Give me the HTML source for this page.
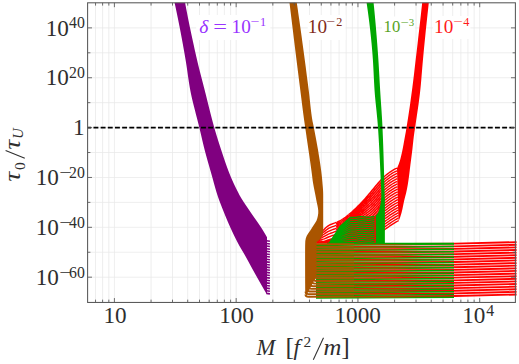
<!DOCTYPE html>
<html><head><meta charset="utf-8"><title>plot</title>
<style>
html,body{margin:0;padding:0;background:#fff;}
body{width:519px;height:364px;overflow:hidden;font-family:"Liberation Serif",serif;}
svg{display:block;}
</style></head><body>
<svg width="519" height="364" viewBox="0 0 519 364">
<path d="M95.54 2.8V302.45M102.6 2.8V302.45M108.83 2.8V302.45M114.4 2.8V302.45M151.06 2.8V302.45M172.5 2.8V302.45M187.71 2.8V302.45M199.51 2.8V302.45M209.16 2.8V302.45M217.31 2.8V302.45M224.37 2.8V302.45M230.6 2.8V302.45M236.17 2.8V302.45M272.83 2.8V302.45M294.27 2.8V302.45M309.48 2.8V302.45M321.28 2.8V302.45M330.93 2.8V302.45M339.08 2.8V302.45M346.14 2.8V302.45M352.37 2.8V302.45M357.94 2.8V302.45M394.6 2.8V302.45M416.04 2.8V302.45M431.25 2.8V302.45M443.05 2.8V302.45M452.7 2.8V302.45M460.85 2.8V302.45M467.91 2.8V302.45M474.14 2.8V302.45M479.71 2.8V302.45M87.6 277.18H515.4M87.6 252.25H515.4M87.6 227.32H515.4M87.6 202.39H515.4M87.6 177.46H515.4M87.6 152.53H515.4M87.6 127.6H515.4M87.6 102.67H515.4M87.6 77.74H515.4M87.6 52.81H515.4M87.6 27.88H515.4" stroke="#e8e8e8" stroke-width="0.75" fill="none"/>
<g id="lblbg" fill="#fff">
<rect x="196.2" y="15" width="74.2" height="25"/>
<rect x="307.7" y="15" width="37.8" height="25"/>
<rect x="382" y="16.5" width="32.8" height="22.3"/>
<rect x="433" y="16" width="37.4" height="23"/>
</g>
<g id="red" stroke="#ff0000" fill="none" stroke-width="1.85">
<path d="M316 244.3L455 243.7L516.6 242.11M316 246.92L455 246.31L516.6 244.73M316 249.54L455 248.93L516.6 247.35M316 252.16L455 251.54L516.6 249.97M316 254.78L455 254.16L516.6 252.59M316 257.4L455 256.77L516.6 255.21M316 260.02L455 259.39L516.6 257.83M316 262.64L455 262L516.6 260.45M316 265.26L455 264.62L516.6 263.07M316 267.88L455 267.24L516.6 265.69M316 270.5L455 269.85L516.6 268.31M316 273.12L455 272.46L516.6 270.93M316 275.74L455 275.08L516.6 273.55M316 278.36L455 277.69L516.6 276.17M316 280.98L455 280.31L516.6 278.79M316 283.6L455 282.93L516.6 281.41M316 286.22L455 285.54L516.6 284.03M316 288.84L455 288.15L516.6 286.64M316 291.46L455 290.77L516.6 289.26M316 294.08L455 293.38L516.6 291.88M316 296.7L455 296L516.6 294.5"/>
<path d="M316.1 242 L317.27 239.04 L318.44 236.67 L319.62 234.76 L320.79 233.11 L321.96 231.65 L323.13 230.37 L324.31 229.19 L325.48 228.05 L326.65 227.01 L327.82 226.09 L329 225.35 L330.17 224.74 L331.34 224.23 L332.51 223.78 L333.69 223.36 L334.86 222.95 L336.03 222.5M316.1 242.13 L317.27 239.7 L318.45 237.75 L319.62 236.18 L320.8 234.83 L321.97 233.63 L323.15 232.57 L324.32 231.59 L325.5 230.61 L326.67 229.7 L327.85 228.88 L329.02 228.2 L330.2 227.64 L331.37 227.15 L332.55 226.71 L333.72 226.29 L334.9 225.87 L336.07 225.43M316.1 242.25 L317.28 240.36 L318.45 238.83 L319.63 237.6 L320.81 236.55 L321.99 235.61 L323.16 234.78 L324.34 234 L325.52 233.17 L326.69 232.38 L327.87 231.67 L329.05 231.06 L330.23 230.54 L331.4 230.07 L332.58 229.63 L333.76 229.22 L334.93 228.79 L336.11 228.35M316.1 242.38 L317.28 241.01 L318.46 239.92 L319.64 239.03 L320.82 238.26 L322 237.59 L323.18 236.99 L324.36 236.4 L325.54 235.72 L326.71 235.07 L327.89 234.46 L329.07 233.91 L330.25 233.43 L331.43 232.98 L332.61 232.56 L333.79 232.14 L334.97 231.71 L336.15 231.26M316.1 242.5 L317.28 241.67 L318.46 241 L319.65 240.45 L320.83 239.98 L322.01 239.56 L323.19 239.2 L324.37 238.8 L325.55 238.28 L326.74 237.75 L327.92 237.24 L329.1 236.76 L330.28 236.32 L331.46 235.89 L332.64 235.47 L333.83 235.05 L335.01 234.62 L336.19 234.17M316.1 242.63 L317.28 242.32 L318.47 242.08 L319.65 241.87 L320.84 241.7 L322.02 241.54 L323.2 241.4 L324.39 241.2 L325.57 240.83 L326.76 240.43 L327.94 240.02 L329.12 239.61 L330.31 239.21 L331.49 238.8 L332.68 238.39 L333.86 237.97 L335.04 237.53 L336.23 237.08M316.1 242.64 L317.29 242.4 L318.47 242.2 L319.66 242.03 L320.85 241.89 L322.03 241.76 L323.22 241.65 L324.4 241.48 L325.59 241.18 L326.78 240.86 L327.96 240.53 L329.15 240.2 L330.34 239.88 L331.52 239.55 L332.71 239.22 L333.9 238.89 L335.08 238.54 L336.27 238.17M316.1 242.65 L317.29 242.43 L318.48 242.26 L319.66 242.11 L320.85 241.98 L322.04 241.87 L323.23 241.77 L324.41 241.63 L325.6 241.36 L326.79 241.08 L327.98 240.79 L329.16 240.5 L330.35 240.22 L331.54 239.93 L332.73 239.64 L333.91 239.35 L335.1 239.04 L336.29 238.72M316.1 242.66 L317.29 242.47 L318.48 242.32 L319.67 242.19 L320.85 242.08 L322.04 241.98 L323.23 241.89 L324.42 241.77 L325.61 241.54 L326.8 241.3 L327.99 241.05 L329.18 240.8 L330.36 240.55 L331.55 240.31 L332.74 240.06 L333.93 239.81 L335.12 239.55 L336.31 239.27M316.1 242.66 L317.29 242.51 L318.48 242.38 L319.67 242.27 L320.86 242.17 L322.05 242.09 L323.24 242.02 L324.43 241.91 L325.62 241.72 L326.81 241.51 L328 241.31 L329.19 241.1 L330.38 240.89 L331.57 240.69 L332.76 240.48 L333.95 240.27 L335.14 240.05 L336.33 239.83M316.1 242.67 L317.29 242.54 L318.48 242.44 L319.67 242.35 L320.86 242.27 L322.06 242.2 L323.25 242.14 L324.44 242.05 L325.63 241.9 L326.82 241.73 L328.01 241.56 L329.2 241.4 L330.39 241.23 L331.58 241.07 L332.77 240.9 L333.97 240.74 L335.16 240.56 L336.35 240.38M316.1 242.68 L317.29 242.58 L318.48 242.5 L319.68 242.43 L320.87 242.37 L322.06 242.31 L323.25 242.26 L324.45 242.19 L325.64 242.07 L326.83 241.95 L328.02 241.82 L329.21 241.7 L330.41 241.57 L331.6 241.45 L332.79 241.33 L333.98 241.2 L335.17 241.07 L336.37 240.93M316.1 242.69 L317.29 242.61 L318.49 242.56 L319.68 242.51 L320.87 242.46 L322.07 242.42 L323.26 242.39 L324.45 242.34 L325.65 242.25 L326.84 242.17 L328.03 242.08 L329.23 242 L330.42 241.92 L331.61 241.83 L332.81 241.75 L334 241.67 L335.19 241.58 L336.39 241.49M316.1 242.69 L317.29 242.65 L318.49 242.62 L319.68 242.58 L320.88 242.56 L322.07 242.53 L323.27 242.51 L324.46 242.48 L325.66 242.43 L326.85 242.39 L328.04 242.34 L329.24 242.3 L330.43 242.26 L331.63 242.22 L332.82 242.17 L334.02 242.13 L335.21 242.09 L336.41 242.04M316.1 242.7 L317.3 242.69 L318.49 242.68 L319.69 242.66 L320.88 242.65 L322.08 242.64 L323.27 242.63 L324.47 242.62 L325.67 242.61 L326.86 242.61 L328.06 242.6 L329.25 242.6 L330.45 242.6 L331.64 242.6 L332.84 242.6 L334.03 242.6 L335.23 242.6 L336.43 242.6" stroke-width="1.4" stroke-linejoin="round"/>
<path d="M336.03 222.5 L337.2 222 L338.38 221.45 L339.55 220.86 L340.72 220.23 L341.89 219.54 L343.07 218.8 L344.24 218 L345.41 217.17 L346.58 216.29 L347.76 215.38 L348.93 214.45M336.05 223.96 L337.23 223.46 L338.4 222.92 L339.57 222.34 L340.75 221.71 L341.92 221.03 L343.09 220.29 L344.27 219.5 L345.44 218.68 L346.61 217.81 L347.79 216.91 L348.96 215.98M336.07 225.43 L337.25 224.93 L338.42 224.38 L339.6 223.81 L340.77 223.19 L341.95 222.51 L343.12 221.78 L344.29 221 L345.47 220.19 L346.64 219.33 L347.82 218.43 L348.99 217.51M336.09 226.89 L337.27 226.39 L338.44 225.85 L339.62 225.28 L340.79 224.66 L341.97 223.99 L343.15 223.27 L344.32 222.5 L345.5 221.69 L346.67 220.84 L347.85 219.95 L349.03 219.03M336.11 228.35 L337.29 227.85 L338.46 227.31 L339.64 226.75 L340.82 226.14 L342 225.47 L343.17 224.76 L344.35 224 L345.53 223.19 L346.7 222.35 L347.88 221.47 L349.06 220.55M336.13 229.8 L337.31 229.31 L338.49 228.78 L339.67 228.21 L340.84 227.61 L342.02 226.95 L343.2 226.24 L344.38 225.49 L345.56 224.7 L346.73 223.86 L347.91 222.98 L349.09 222.07M336.15 231.26 L337.33 230.77 L338.51 230.24 L339.69 229.68 L340.87 229.08 L342.05 228.43 L343.23 227.73 L344.41 226.98 L345.59 226.2 L346.76 225.37 L347.94 224.5 L349.12 223.59M336.17 232.72 L337.35 232.23 L338.53 231.7 L339.71 231.14 L340.89 230.55 L342.07 229.9 L343.25 229.21 L344.43 228.47 L345.61 227.69 L346.8 226.87 L347.98 226.01 L349.16 225.1M336.19 234.17 L337.37 233.68 L338.55 233.16 L339.73 232.61 L340.92 232.01 L342.1 231.37 L343.28 230.69 L344.46 229.96 L345.64 229.19 L346.83 228.37 L348.01 227.51 L349.19 226.61M336.21 235.63 L337.39 235.14 L338.58 234.62 L339.76 234.07 L340.94 233.48 L342.12 232.85 L343.31 232.17 L344.49 231.45 L345.67 230.68 L346.86 229.87 L348.04 229.02 L349.22 228.12M336.23 237.08 L337.41 236.59 L338.6 236.07 L339.78 235.53 L340.97 234.94 L342.15 234.32 L343.33 233.65 L344.52 232.93 L345.7 232.17 L346.89 231.37 L348.07 230.52 L349.25 229.63M336.25 237.63 L337.43 237.19 L338.62 236.72 L339.8 236.23 L340.99 235.7 L342.17 235.14 L343.36 234.53 L344.55 233.89 L345.73 233.21 L346.92 232.48 L348.1 231.72 L349.29 230.91M336.27 238.17 L337.45 237.78 L338.64 237.37 L339.83 236.93 L341.01 236.46 L342.2 235.96 L343.39 235.42 L344.57 234.85 L345.76 234.24 L346.95 233.6 L348.13 232.92 L349.32 232.2M336.29 238.72 L337.48 238.38 L338.66 238.02 L339.85 237.63 L341.04 237.22 L342.23 236.78 L343.41 236.31 L344.6 235.81 L345.79 235.28 L346.98 234.71 L348.16 234.12 L349.35 233.49M336.31 239.27 L337.5 238.98 L338.69 238.67 L339.87 238.34 L341.06 237.99 L342.25 237.61 L343.44 237.21 L344.63 236.78 L345.82 236.32 L347.01 235.83 L348.19 235.32 L349.38 234.79M336.33 239.83 L337.52 239.58 L338.71 239.32 L339.9 239.05 L341.09 238.75 L342.28 238.44 L343.47 238.1 L344.66 237.74 L345.85 237.36 L347.04 236.96 L348.23 236.53 L349.42 236.08M336.35 240.38 L337.54 240.18 L338.73 239.97 L339.92 239.75 L341.11 239.52 L342.3 239.27 L343.49 239 L344.68 238.71 L345.88 238.4 L347.07 238.08 L348.26 237.74 L349.45 237.38M336.37 240.93 L337.56 240.78 L338.75 240.63 L339.94 240.46 L341.14 240.29 L342.33 240.1 L343.52 239.89 L344.71 239.68 L345.9 239.45 L347.1 239.21 L348.29 238.95 L349.48 238.68M336.39 241.49 L337.58 241.39 L338.77 241.28 L339.97 241.17 L341.16 241.06 L342.35 240.93 L343.55 240.79 L344.74 240.65 L345.93 240.5 L347.13 240.34 L348.32 240.16 L349.51 239.98M336.41 242.04 L337.6 241.99 L338.8 241.94 L339.99 241.89 L341.18 241.83 L342.38 241.76 L343.57 241.7 L344.77 241.62 L345.96 241.55 L347.16 241.47 L348.35 241.38 L349.55 241.29M336.43 242.6 L337.62 242.6 L338.82 242.6 L340.01 242.6 L341.21 242.6 L342.4 242.6 L343.6 242.6 L344.8 242.6 L345.99 242.6 L347.19 242.6 L348.38 242.6 L349.58 242.6" stroke-width="1.3" stroke-linejoin="round"/>
<path d="M348.93 214.45 L350.1 213.49 L351.27 212.51 L352.45 211.5 L353.62 210.45 L354.79 209.36 L355.96 208.24 L357.14 207.08 L358.31 205.9 L359.48 204.7 L360.65 203.48 L361.83 202.24 L363 200.99 L364.17 199.73 L365.34 198.45 L366.52 197.12 L367.69 195.76 L368.86 194.37 L370.03 192.96 L371.21 191.53 L372.38 190.1 L373.55 188.67 L374.72 187.25 L375.9 185.85 L377.07 184.47 L378.24 183.13 L379.41 181.81 L380.59 180.46 L381.76 179.13 L382.93 177.88M348.96 215.98 L350.14 215.02 L351.31 214.04 L352.48 213.05 L353.66 212.06 L354.83 211.02 L356 209.95 L357.18 208.86 L358.35 207.74 L359.52 206.59 L360.7 205.43 L361.87 204.25 L363.04 203.06 L364.22 201.87 L365.39 200.65 L366.57 199.39 L367.74 198.09 L368.91 196.76 L370.09 195.42 L371.26 194.05 L372.43 192.65 L373.61 191.24 L374.78 189.84 L375.95 188.45 L377.13 187.08 L378.3 185.72 L379.48 184.39 L380.65 183.03 L381.82 181.71 L383 180.48M348.99 217.51 L350.17 216.55 L351.34 215.57 L352.52 214.61 L353.69 213.66 L354.87 212.68 L356.04 211.67 L357.22 210.63 L358.39 209.57 L359.57 208.48 L360.74 207.38 L361.92 206.27 L363.09 205.14 L364.27 204.01 L365.44 202.85 L366.62 201.65 L367.79 200.42 L368.97 199.16 L370.14 197.88 L371.31 196.56 L372.49 195.2 L373.66 193.82 L374.84 192.43 L376.01 191.06 L377.19 189.69 L378.36 188.32 L379.54 186.96 L380.71 185.6 L381.89 184.29 L383.06 183.08M349.03 219.03 L350.2 218.08 L351.38 217.1 L352.55 216.16 L353.73 215.27 L354.91 214.34 L356.08 213.39 L357.26 212.41 L358.43 211.4 L359.61 210.38 L360.79 209.34 L361.96 208.28 L363.14 207.22 L364.31 206.14 L365.49 205.05 L366.67 203.91 L367.84 202.75 L369.02 201.55 L370.19 200.34 L371.37 199.07 L372.55 197.75 L373.72 196.39 L374.9 195.02 L376.07 193.66 L377.25 192.29 L378.42 190.91 L379.6 189.54 L380.78 188.17 L381.95 186.87 L383.13 185.67M349.06 220.55 L350.24 219.6 L351.41 218.63 L352.59 217.72 L353.77 216.88 L354.94 216 L356.12 215.11 L357.3 214.18 L358.48 213.23 L359.65 212.27 L360.83 211.29 L362.01 210.29 L363.18 209.29 L364.36 208.28 L365.54 207.25 L366.72 206.18 L367.89 205.08 L369.07 203.95 L370.25 202.8 L371.42 201.59 L372.6 200.3 L373.78 198.96 L374.96 197.61 L376.13 196.27 L377.31 194.9 L378.49 193.5 L379.66 192.12 L380.84 190.74 L382.02 189.45 L383.19 188.27M349.09 222.07 L350.27 221.12 L351.45 220.15 L352.63 219.27 L353.8 218.48 L354.98 217.67 L356.16 216.82 L357.34 215.95 L358.52 215.07 L359.7 214.16 L360.87 213.24 L362.05 212.31 L363.23 211.37 L364.41 210.42 L365.59 209.45 L366.77 208.44 L367.94 207.41 L369.12 206.35 L370.3 205.26 L371.48 204.1 L372.66 202.85 L373.83 201.54 L375.01 200.2 L376.19 198.87 L377.37 197.51 L378.55 196.1 L379.73 194.69 L380.9 193.31 L382.08 192.03 L383.26 190.87M349.12 223.59 L350.3 222.64 L351.48 221.67 L352.66 220.83 L353.84 220.09 L355.02 219.33 L356.2 218.54 L357.38 217.73 L358.56 216.9 L359.74 216.05 L360.92 215.19 L362.1 214.32 L363.28 213.44 L364.46 212.56 L365.64 211.65 L366.82 210.71 L367.99 209.74 L369.17 208.74 L370.35 207.73 L371.53 206.62 L372.71 205.4 L373.89 204.11 L375.07 202.79 L376.25 201.47 L377.43 200.11 L378.61 198.69 L379.79 197.27 L380.97 195.88 L382.15 194.61 L383.33 193.47M349.16 225.1 L350.34 224.16 L351.52 223.18 L352.7 222.38 L353.88 221.7 L355.06 220.99 L356.24 220.26 L357.42 219.5 L358.6 218.73 L359.78 217.95 L360.96 217.15 L362.14 216.34 L363.32 215.52 L364.5 214.69 L365.68 213.85 L366.86 212.97 L368.05 212.07 L369.23 211.14 L370.41 210.19 L371.59 209.13 L372.77 207.95 L373.95 206.68 L375.13 205.38 L376.31 204.08 L377.49 202.72 L378.67 201.28 L379.85 199.84 L381.03 198.45 L382.21 197.19 L383.39 196.07M349.19 226.61 L350.37 225.67 L351.55 224.7 L352.73 223.94 L353.92 223.3 L355.1 222.65 L356.28 221.97 L357.46 221.28 L358.64 220.56 L359.82 219.84 L361.01 219.1 L362.19 218.35 L363.37 217.59 L364.55 216.83 L365.73 216.05 L366.91 215.24 L368.1 214.4 L369.28 213.53 L370.46 212.65 L371.64 211.65 L372.82 210.5 L374.01 209.25 L375.19 207.96 L376.37 206.68 L377.55 205.33 L378.73 203.88 L379.91 202.42 L381.1 201.02 L382.28 199.77 L383.46 198.67M349.22 228.12 L350.4 227.19 L351.59 226.21 L352.77 225.49 L353.95 224.91 L355.14 224.31 L356.32 223.69 L357.5 223.05 L358.68 222.4 L359.87 221.73 L361.05 221.05 L362.23 220.36 L363.42 219.67 L364.6 218.97 L365.78 218.25 L366.96 217.5 L368.15 216.73 L369.33 215.93 L370.51 215.11 L371.7 214.16 L372.88 213.05 L374.06 211.83 L375.24 210.55 L376.43 209.29 L377.61 207.93 L378.79 206.47 L379.98 205 L381.16 203.59 L382.34 202.35 L383.53 201.26M349.25 229.63 L350.44 228.69 L351.62 227.71 L352.81 227.05 L353.99 226.52 L355.17 225.97 L356.36 225.41 L357.54 224.82 L358.73 224.23 L359.91 223.62 L361.09 223 L362.28 222.38 L363.46 221.74 L364.65 221.11 L365.83 220.45 L367.01 219.77 L368.2 219.06 L369.38 218.32 L370.57 217.57 L371.75 216.68 L372.93 215.6 L374.12 214.4 L375.3 213.14 L376.49 211.89 L377.67 210.54 L378.86 209.06 L380.04 207.57 L381.22 206.16 L382.41 204.93 L383.59 203.86M349.29 230.91 L350.47 230.07 L351.66 229.19 L352.84 228.6 L354.03 228.13 L355.21 227.63 L356.4 227.12 L357.58 226.6 L358.77 226.06 L359.95 225.51 L361.14 224.96 L362.32 224.39 L363.51 223.82 L364.69 223.24 L365.88 222.65 L367.06 222.03 L368.25 221.39 L369.43 220.72 L370.62 220.03 L371.81 219.19 L372.99 218.15 L374.18 216.97 L375.36 215.73 L376.55 214.49 L377.73 213.15 L378.92 211.66 L380.1 210.15 L381.29 208.73 L382.47 207.51 L383.66 206.46M349.32 232.2 L350.5 231.45 L351.69 230.67 L352.88 230.16 L354.06 229.73 L355.25 229.29 L356.44 228.84 L357.62 228.37 L358.81 227.89 L360 227.41 L361.18 226.91 L362.37 226.41 L363.56 225.9 L364.74 225.38 L365.93 224.85 L367.11 224.29 L368.3 223.72 L369.49 223.12 L370.67 222.5 L371.86 221.71 L373.05 220.7 L374.23 219.55 L375.42 218.32 L376.61 217.1 L377.79 215.75 L378.98 214.25 L380.16 212.73 L381.35 211.29 L382.54 210.09 L383.72 209.06M349.35 233.49 L350.54 232.84 L351.73 232.15 L352.91 231.71 L354.1 231.34 L355.29 230.96 L356.48 230.56 L357.66 230.15 L358.85 229.73 L360.04 229.3 L361.23 228.86 L362.41 228.42 L363.6 227.97 L364.79 227.52 L365.98 227.05 L367.16 226.56 L368.35 226.05 L369.54 225.51 L370.73 224.96 L371.91 224.22 L373.1 223.25 L374.29 222.12 L375.48 220.91 L376.66 219.7 L377.85 218.36 L379.04 216.85 L380.23 215.3 L381.41 213.86 L382.6 212.67 L383.79 211.66M349.38 234.79 L350.57 234.22 L351.76 233.63 L352.95 233.27 L354.14 232.95 L355.33 232.62 L356.52 232.27 L357.7 231.92 L358.89 231.56 L360.08 231.19 L361.27 230.81 L362.46 230.43 L363.65 230.05 L364.84 229.66 L366.03 229.25 L367.21 228.82 L368.4 228.38 L369.59 227.91 L370.78 227.42 L371.97 226.74 L373.16 225.8 L374.35 224.69 L375.53 223.5 L376.72 222.31 L377.91 220.97 L379.1 219.44 L380.29 217.88 L381.48 216.43 L382.67 215.25 L383.86 214.26M349.42 236.08 L350.61 235.61 L351.8 235.12 L352.99 234.82 L354.18 234.55 L355.37 234.28 L356.56 233.99 L357.74 233.7 L358.93 233.39 L360.12 233.08 L361.31 232.77 L362.5 232.45 L363.69 232.12 L364.88 231.79 L366.07 231.45 L367.26 231.09 L368.45 230.71 L369.64 230.3 L370.83 229.88 L372.02 229.25 L373.21 228.35 L374.4 227.27 L375.59 226.09 L376.78 224.91 L377.97 223.57 L379.16 222.03 L380.35 220.46 L381.54 219 L382.73 217.83 L383.92 216.85M349.45 237.38 L350.64 237 L351.83 236.61 L353.02 236.38 L354.21 236.16 L355.4 235.94 L356.59 235.71 L357.79 235.47 L358.98 235.22 L360.17 234.97 L361.36 234.72 L362.55 234.46 L363.74 234.2 L364.93 233.93 L366.12 233.65 L367.31 233.35 L368.5 233.04 L369.7 232.7 L370.89 232.34 L372.08 231.77 L373.27 230.9 L374.46 229.84 L375.65 228.68 L376.84 227.51 L378.03 226.18 L379.22 224.63 L380.41 223.03 L381.61 221.57 L382.8 220.41 L383.99 219.45M349.48 238.68 L350.67 238.4 L351.87 238.1 L353.06 237.93 L354.25 237.77 L355.44 237.6 L356.63 237.42 L357.83 237.24 L359.02 237.06 L360.21 236.87 L361.4 236.67 L362.59 236.47 L363.79 236.27 L364.98 236.07 L366.17 235.85 L367.36 235.62 L368.56 235.36 L369.75 235.09 L370.94 234.8 L372.13 234.28 L373.32 233.45 L374.52 232.41 L375.71 231.27 L376.9 230.12 L378.09 228.79 L379.29 227.22 L380.48 225.61 L381.67 224.14 L382.86 222.99M349.51 239.98 L350.71 239.8 L351.9 239.6 L353.09 239.48 L354.29 239.38 L355.48 239.26 L356.67 239.14 L357.87 239.02 L359.06 238.89 L360.25 238.76 L361.45 238.63 L362.64 238.49 L363.83 238.35 L365.03 238.21 L366.22 238.05 L367.41 237.88 L368.61 237.69 L369.8 237.49 L370.99 237.27 L372.19 236.8 L373.38 236 L374.57 234.98 L375.77 233.85 L376.96 232.72 L378.15 231.39 L379.35 229.81 L380.54 228.19 L381.73 226.71 L382.93 225.57M349.55 241.29 L350.74 241.2 L351.93 241.1 L353.13 241.04 L354.32 240.98 L355.52 240.92 L356.71 240.86 L357.91 240.79 L359.1 240.72 L360.3 240.65 L361.49 240.58 L362.69 240.5 L363.88 240.43 L365.07 240.34 L366.27 240.25 L367.46 240.15 L368.66 240.02 L369.85 239.89 L371.05 239.73 L372.24 239.31 L373.44 238.55 L374.63 237.56 L375.82 236.44 L377.02 235.32 L378.21 234 L379.41 232.41 L380.6 230.76 L381.8 229.28 L382.99 228.15M349.58 242.6 L350.77 242.6 L351.97 242.6 L353.17 242.59 L354.36 242.59 L355.56 242.58 L356.75 242.58 L357.95 242.57 L359.14 242.56 L360.34 242.54 L361.53 242.53 L362.73 242.52 L363.93 242.5 L365.12 242.48 L366.32 242.45 L367.51 242.41 L368.71 242.35 L369.9 242.28 L371.1 242.19 L372.3 241.83 L373.49 241.1 L374.69 240.13 L375.88 239.03 L377.08 237.93 L378.27 236.61 L379.47 235 L380.67 233.34 L381.86 231.85 L383.06 230.73" stroke-width="1.55" stroke-linejoin="round"/>
<path d="M382.93 177.88 L384.1 176.76 L385.28 175.77 L386.45 174.81 L387.62 173.88 L388.79 172.98 L389.97 172.12 L391.14 171.32 L392.31 170.56 L393.48 169.87 L394.66 169.24 L395.83 168.68 L397 168.2M383 180.48 L384.17 179.37 L385.34 178.39 L386.52 177.43 L387.69 176.51 L388.86 175.62 L390.04 174.76 L391.21 173.96 L392.39 173.2 L393.56 172.5 L394.73 171.87 L395.91 171.31 L397.08 170.82M383.06 183.08 L384.24 181.98 L385.41 181.01 L386.59 180.06 L387.76 179.14 L388.94 178.25 L390.11 177.4 L391.29 176.6 L392.46 175.84 L393.64 175.14 L394.81 174.51 L395.99 173.94 L397.16 173.44M383.13 185.67 L384.3 184.59 L385.48 183.63 L386.66 182.69 L387.83 181.77 L389.01 180.89 L390.18 180.04 L391.36 179.24 L392.54 178.48 L393.71 177.78 L394.89 177.14 L396.06 176.57 L397.24 176.06M383.19 188.27 L384.37 187.2 L385.55 186.25 L386.73 185.31 L387.9 184.4 L389.08 183.52 L390.26 182.68 L391.43 181.88 L392.61 181.13 L393.79 180.42 L394.97 179.78 L396.14 179.19 L397.32 178.68M383.26 190.87 L384.44 189.82 L385.62 188.87 L386.8 187.94 L387.97 187.03 L389.15 186.16 L390.33 185.32 L391.51 184.52 L392.69 183.77 L393.87 183.06 L395.04 182.41 L396.22 181.82 L397.4 181.3M383.33 193.47 L384.51 192.43 L385.69 191.49 L386.87 190.56 L388.04 189.67 L389.22 188.8 L390.4 187.96 L391.58 187.16 L392.76 186.41 L393.94 185.7 L395.12 185.05 L396.3 184.45 L397.48 183.92M383.39 196.07 L384.57 195.04 L385.75 194.1 L386.93 193.19 L388.12 192.3 L389.3 191.43 L390.48 190.6 L391.66 189.8 L392.84 189.05 L394.02 188.34 L395.2 187.68 L396.38 187.08 L397.56 186.54M383.46 198.67 L384.64 197.65 L385.82 196.72 L387 195.82 L388.19 194.93 L389.37 194.07 L390.55 193.24 L391.73 192.45 L392.91 191.69 L394.09 190.98 L395.28 190.32 L396.46 189.71 L397.64 189.16M383.53 201.26 L384.71 200.27 L385.89 199.34 L387.07 198.44 L388.26 197.56 L389.44 196.7 L390.62 195.88 L391.81 195.09 L392.99 194.33 L394.17 193.62 L395.35 192.95 L396.54 192.34 L397.72 191.78M383.59 203.86 L384.78 202.88 L385.96 201.96 L387.14 201.07 L388.33 200.19 L389.51 199.34 L390.7 198.52 L391.88 197.73 L393.06 196.97 L394.25 196.26 L395.43 195.59 L396.62 194.97 L397.8 194.4M383.66 206.46 L384.84 205.49 L386.03 204.58 L387.21 203.69 L388.4 202.82 L389.58 201.98 L390.77 201.16 L391.95 200.37 L393.14 199.61 L394.32 198.9 L395.51 198.23 L396.69 197.6 L397.88 197.02M382.54 210.09 L383.72 209.06 L384.91 208.1 L386.1 207.2 L387.28 206.32 L388.47 205.45 L389.66 204.61 L390.84 203.8 L392.03 203.01 L393.21 202.26 L394.4 201.54 L395.59 200.86 L396.77 200.23 L397.96 199.64M382.6 212.67 L383.79 211.66 L384.98 210.71 L386.16 209.82 L387.35 208.94 L388.54 208.09 L389.73 207.25 L390.91 206.44 L392.1 205.65 L393.29 204.9 L394.48 204.18 L395.66 203.5 L396.85 202.86 L398.04 202.26M382.67 215.25 L383.86 214.26 L385.04 213.33 L386.23 212.44 L387.42 211.57 L388.61 210.72 L389.8 209.88 L390.99 209.08 L392.18 208.29 L393.37 207.54 L394.55 206.82 L395.74 206.13 L396.93 205.48 L398.12 204.88M382.73 217.83 L383.92 216.85 L385.11 215.94 L386.3 215.06 L387.49 214.2 L388.68 213.35 L389.87 212.52 L391.06 211.71 L392.25 210.93 L393.44 210.18 L394.63 209.46 L395.82 208.77 L397.01 208.11 L398.2 207.5M382.8 220.41 L383.99 219.45 L385.18 218.55 L386.37 217.68 L387.56 216.82 L388.75 215.98 L389.94 215.16 L391.13 214.35 L392.32 213.57 L393.52 212.82 L394.71 212.1 L395.9 211.4 L397.09 210.74 L398.28 210.12M382.86 222.99 L384.05 222.05 L385.25 221.16 L386.44 220.3 L387.63 219.45 L388.82 218.61 L390.01 217.79 L391.21 216.99 L392.4 216.22 L393.59 215.46 L394.78 214.73 L395.98 214.04 L397.17 213.37 L398.36 212.74M382.93 225.57 L384.12 224.65 L385.31 223.77 L386.51 222.92 L387.7 222.07 L388.89 221.24 L390.09 220.43 L391.28 219.63 L392.47 218.86 L393.67 218.1 L394.86 217.37 L396.05 216.67 L397.25 216 L398.44 215.36M382.99 228.15 L384.19 227.25 L385.38 226.39 L386.58 225.54 L387.77 224.7 L388.96 223.87 L390.16 223.06 L391.35 222.27 L392.55 221.5 L393.74 220.74 L394.94 220.01 L396.13 219.31 L397.33 218.63 L398.52 217.98M383.06 230.73 L384.25 229.85 L385.45 229 L386.64 228.16 L387.84 227.33 L389.03 226.51 L390.23 225.7 L391.43 224.91 L392.62 224.14 L393.82 223.39 L395.01 222.65 L396.21 221.94 L397.4 221.26 L398.6 220.6" stroke-width="1.4" stroke-linejoin="round"/>
<path d="M348 218L377 216L377 243L340 243Z" fill="#ff0000" stroke="none"/>
<path d="M422.2 2.8 L421.75 6.83 L421.3 10.87 L420.85 14.9 L420.4 18.94 L419.94 22.97 L419.48 27 L419.02 31.04 L418.55 35.07 L418.09 39.11 L417.62 43.14 L417.15 47.18 L416.68 51.21 L416.21 55.24 L415.73 59.28 L415.26 63.31 L414.79 67.35 L414.32 71.38 L413.85 75.41 L413.36 79.45 L412.86 83.48 L412.35 87.52 L411.83 91.55 L411.28 95.59 L410.73 99.62 L410.16 103.65 L409.58 107.69 L408.98 111.72 L408.37 115.76 L407.75 119.79 L407.11 123.82 L406.46 127.86 L405.77 131.89 L405.03 135.93 L404.3 139.96 L403.59 144 L402.84 148.03 L402.03 152.06 L401.11 156.1 L400.06 160.13 L398.67 164.17 L397 168.2 L397.3 180 L397.8 200 L398.6 221.2 L398.6 221.2 L400.17 217.16 L401.47 213.11 L402.44 209.07 L403.25 205.02 L404.08 200.98 L405.07 196.93 L406.13 192.89 L407.03 188.84 L407.76 184.8 L408.38 180.76 L408.94 176.71 L409.45 172.67 L409.95 168.62 L410.45 164.58 L410.98 160.53 L411.49 156.49 L412 152.44 L412.49 148.4 L412.93 144.36 L413.37 140.31 L413.84 136.27 L414.4 132.22 L415.02 128.18 L415.61 124.13 L416.21 120.09 L416.82 116.04 L417.42 112 L418.01 107.96 L418.59 103.91 L419.13 99.87 L419.65 95.82 L420.12 91.78 L420.54 87.73 L420.93 83.69 L421.28 79.64 L421.62 75.6 L421.95 71.56 L422.28 67.51 L422.62 63.47 L422.98 59.42 L423.35 55.38 L423.74 51.33 L424.13 47.29 L424.53 43.24 L424.93 39.2 L425.34 35.16 L425.75 31.11 L426.17 27.07 L426.6 23.02 L427.03 18.98 L427.46 14.93 L427.9 10.89 L428.35 6.84 L428.8 2.8Z" fill="#ff0000" stroke="none"/>
</g>
<g id="green" stroke="#00a700" fill="none" stroke-width="1.5">
<path d="M316 245.6L454 243.85M316 248.22L454 246.51M316 250.84L454 249.18M316 253.46L454 251.84M316 256.08L454 254.51M316 258.7L454 257.18M316 261.32L454 259.84M316 263.94L454 262.5M316 266.56L454 265.17M316 269.18L454 267.83M316 271.8L454 270.5M316 274.42L454 273.17M316 277.04L454 275.83M316 279.66L454 278.5M316 282.28L454 281.16M316 284.9L454 283.82M316 287.52L454 286.49M316 290.14L454 289.15M316 292.76L454 291.82M316 295.38L454 294.49M316 298L454 297.15"/>
<path d="M366.6 2.8 L367.18 6.81 L367.75 10.82 L368.29 14.84 L368.82 18.85 L369.32 22.86 L369.8 26.87 L370.27 30.88 L370.71 34.89 L371.12 38.91 L371.52 42.92 L371.88 46.93 L372.23 50.94 L372.55 54.95 L372.84 58.96 L373.09 62.97 L373.31 66.99 L373.52 71 L373.71 75.01 L373.91 79.02 L374.12 83.03 L374.34 87.05 L374.6 91.06 L374.91 95.07 L375.27 99.08 L375.66 103.09 L376.08 107.1 L376.5 111.11 L376.91 115.13 L377.31 119.14 L377.66 123.15 L377.97 127.16 L378.24 131.17 L378.49 135.19 L378.73 139.2 L378.96 143.21 L379.18 147.22 L379.39 151.23 L379.59 155.24 L379.79 159.26 L379.97 163.27 L380.16 167.28 L380.34 171.29 L380.51 175.3 L380.68 179.31 L380.86 183.33 L381.06 187.34 L381.24 191.35 L381.3 195.36 L381.3 199.37 L381.3 203.38 L381.3 207.4 L381.3 211.41 L381.3 215.42 L381.3 219.43 L381.3 223.44 L381.3 227.45 L381.3 231.47 L381.3 235.48 L381.3 239.49 L381.3 243.5 L384.7 243.5 L384.7 239.49 L384.7 235.48 L384.7 231.47 L384.7 227.45 L384.7 223.44 L384.7 219.43 L384.7 215.42 L384.7 211.41 L384.7 207.4 L384.7 203.38 L384.7 199.37 L384.66 195.36 L384.57 191.35 L384.45 187.34 L384.34 183.33 L384.23 179.31 L384.12 175.3 L384.02 171.29 L383.9 167.28 L383.79 163.27 L383.67 159.26 L383.54 155.24 L383.41 151.23 L383.27 147.22 L383.13 143.21 L382.98 139.2 L382.82 135.19 L382.65 131.17 L382.48 127.16 L382.28 123.15 L382.06 119.14 L381.81 115.13 L381.55 111.11 L381.28 107.1 L381 103.09 L380.72 99.08 L380.46 95.07 L380.2 91.06 L379.97 87.05 L379.74 83.03 L379.51 79.02 L379.29 75.01 L379.06 71 L378.83 66.99 L378.59 62.97 L378.33 58.96 L378.06 54.95 L377.77 50.94 L377.48 46.93 L377.17 42.92 L376.86 38.91 L376.54 34.89 L376.2 30.88 L375.86 26.87 L375.51 22.86 L375.14 18.85 L374.77 14.84 L374.39 10.82 L374 6.81 L373.6 2.8Z" fill="#00a700" stroke="none"/>
<path d="M329 243.6 L340.29 226.21 L350.3 217.4 L352.5 217.5 L354.5 217.49 L356.5 217.24 L358.5 216.87 L360.5 216.61 L362.5 216.6 L364.5 216.81 L366.5 217.09 L368.5 217.23 L370.5 217.1 L372.5 216.77 L374.5 216.43M329 243.6 L340.29 227.6 L350.3 219.48 L352.5 219.58 L354.5 219.57 L356.5 219.32 L358.5 218.96 L360.5 218.7 L362.5 218.68 L364.5 218.9 L366.5 219.18 L368.5 219.31 L370.5 219.18 L372.5 218.85 L374.5 218.51M329 243.6 L340.29 228.98 L350.3 221.57 L352.5 221.66 L354.5 221.66 L356.5 221.4 L358.5 221.04 L360.5 220.78 L362.5 220.76 L364.5 220.98 L366.5 221.26 L368.5 221.39 L370.5 221.27 L372.5 220.94 L374.5 220.59M329 243.6 L340.29 230.37 L350.3 223.65 L352.5 223.75 L354.5 223.74 L356.5 223.49 L358.5 223.12 L360.5 222.86 L362.5 222.85 L364.5 223.06 L366.5 223.34 L368.5 223.48 L370.5 223.35 L372.5 223.02 L374.5 222.68M329 243.6 L340.29 231.76 L350.3 225.73 L352.5 225.83 L354.5 225.82 L356.5 225.57 L358.5 225.21 L360.5 224.95 L362.5 224.93 L364.5 225.15 L366.5 225.43 L368.5 225.56 L370.5 225.43 L372.5 225.1 L374.5 224.76M329 243.6 L340.29 233.15 L350.3 227.82 L352.5 227.91 L354.5 227.91 L356.5 227.65 L358.5 227.29 L360.5 227.03 L362.5 227.01 L364.5 227.23 L366.5 227.51 L368.5 227.64 L370.5 227.52 L372.5 227.19 L374.5 226.84M329 243.6 L340.29 234.53 L350.3 229.9 L352.5 230 L354.5 229.99 L356.5 229.74 L358.5 229.37 L360.5 229.11 L362.5 229.1 L364.5 229.31 L366.5 229.59 L368.5 229.73 L370.5 229.6 L372.5 229.27 L374.5 228.93M329 243.6 L340.29 235.92 L350.3 231.98 L352.5 232.08 L354.5 232.07 L356.5 231.82 L358.5 231.46 L360.5 231.2 L362.5 231.18 L364.5 231.4 L366.5 231.68 L368.5 231.81 L370.5 231.68 L372.5 231.35 L374.5 231.01M329 243.6 L340.29 237.31 L350.3 234.07 L352.5 234.16 L354.5 234.16 L356.5 233.9 L358.5 233.54 L360.5 233.28 L362.5 233.26 L364.5 233.48 L366.5 233.76 L368.5 233.89 L370.5 233.77 L372.5 233.44 L374.5 233.09M329 243.6 L340.29 238.7 L350.3 236.15 L352.5 236.25 L354.5 236.24 L356.5 235.99 L358.5 235.62 L360.5 235.36 L362.5 235.35 L364.5 235.56 L366.5 235.84 L368.5 235.98 L370.5 235.85 L372.5 235.52 L374.5 235.18M329 243.6 L340.29 240.08 L350.3 238.23 L352.5 238.33 L354.5 238.32 L356.5 238.07 L358.5 237.71 L360.5 237.45 L362.5 237.43 L364.5 237.65 L366.5 237.93 L368.5 238.06 L370.5 237.93 L372.5 237.6 L374.5 237.26M329 243.6 L340.29 241.47 L350.3 240.32 L352.5 240.41 L354.5 240.41 L356.5 240.15 L358.5 239.79 L360.5 239.53 L362.5 239.51 L364.5 239.73 L366.5 240.01 L368.5 240.14 L370.5 240.02 L372.5 239.69 L374.5 239.34M329 243.6 L340.29 242.86 L350.3 242.4 L352.5 242.5 L354.5 242.49 L356.5 242.24 L358.5 241.87 L360.5 241.61 L362.5 241.6 L364.5 241.81 L366.5 242.09 L368.5 242.23 L370.5 242.1 L372.5 241.77 L374.5 241.43" stroke-width="1.35" stroke-linejoin="round"/>
<path d="M375.8 215.6C378.5 214 380.3 208 381.3 198L384.6 198L384.6 243.6L375.8 243.6Z" fill="#00a700" stroke="none"/>
<path d="M327 243.7H454" stroke-width="1.7"/>
</g>
<g id="brown" stroke="#aa5500" fill="none" stroke-width="1.75">
<path d="M289.5 2.8 L289.8 5.31 L290.11 7.81 L290.41 10.32 L290.71 12.82 L291.02 15.33 L291.32 17.84 L291.63 20.34 L291.93 22.85 L292.24 25.35 L292.55 27.86 L292.85 30.37 L293.16 32.87 L293.47 35.38 L293.78 37.89 L294.09 40.39 L294.4 42.9 L294.71 45.4 L295.02 47.91 L295.33 50.42 L295.64 52.92 L295.95 55.43 L296.26 57.93 L296.57 60.44 L296.88 62.95 L297.2 65.45 L297.51 67.96 L297.82 70.46 L298.14 72.97 L298.45 75.48 L298.76 77.98 L299.08 80.49 L299.39 82.99 L299.71 85.5 L300.02 88.01 L300.34 90.51 L300.65 93.02 L300.97 95.53 L301.28 98.03 L301.59 100.54 L301.9 103.04 L302.21 105.55 L302.53 108.06 L302.85 110.56 L303.17 113.07 L303.5 115.57 L303.84 118.08 L304.18 120.59 L304.54 123.09 L304.91 125.6 L305.27 128.1 L305.64 130.61 L306 133.12 L306.37 135.62 L306.74 138.13 L307.12 140.63 L307.49 143.14 L307.86 145.65 L308.23 148.15 L308.6 150.66 L308.97 153.17 L309.34 155.67 L309.7 158.18 L310.06 160.68 L310.41 163.19 L310.76 165.7 L311.1 168.2 L311.44 170.71 L311.77 173.21 L312.09 175.72 L312.38 178.23 L312.7 180.73 L313.1 183.24 L313.54 185.74 L314.02 188.25 L314.51 190.76 L315.02 193.26 L315.51 195.77 L315.99 198.27 L316.44 200.78 L316.97 203.29 L317.52 205.79 L317.98 208.3 L318.26 210.81 L318.25 213.31 L317.89 215.82 L317.31 218.32 L316.48 220.83 L314.94 223.34 L313.29 225.84 L311.71 228.35 L310.1 230.85 L308.33 233.36 L306.77 235.87 L305.83 238.37 L305.31 240.88 L305.21 243.38 L305.14 245.89 L305.11 248.4 L305.1 250.9 L305.1 253.41 L305.1 255.91 L305.1 258.42 L305.1 260.93 L305.1 263.43 L305.11 265.94 L305.11 268.45 L305.11 270.95 L305.12 273.46 L305.13 275.96 L305.13 278.47 L305.14 280.98 L305.15 283.48 L305.17 285.99 L305.18 288.49 L305.2 291 L305.5 293.8 L306.3 295.2 L306.9 294.2 L314.2 280.6 L316 278.5 L316.5 278.5 L316.5 242.4 L316.1 242.4 L319.31 239.88 L321.38 237.36 L322.58 234.83 L323.19 232.31 L323.2 229.79 L323.2 227.27 L323.2 224.75 L323.2 222.22 L323.2 219.7 L323.2 217.18 L323.2 214.66 L323.2 212.13 L323.2 209.61 L323.2 207.09 L323.2 204.57 L323.2 202.05 L323.2 199.52 L323.2 197 L323.2 194.48 L323.13 191.96 L323 189.44 L322.81 186.91 L322.59 184.39 L322.36 181.87 L322.14 179.35 L321.9 176.83 L321.62 174.3 L321.31 171.78 L320.98 169.26 L320.64 166.74 L320.28 164.21 L319.91 161.69 L319.52 159.17 L319.12 156.65 L318.71 154.13 L318.29 151.6 L317.86 149.08 L317.41 146.56 L316.96 144.04 L316.51 141.52 L316.04 138.99 L315.58 136.47 L315.1 133.95 L314.63 131.43 L314.15 128.91 L313.65 126.38 L313.09 123.86 L312.54 121.34 L312.11 118.82 L311.74 116.29 L311.4 113.77 L311.08 111.25 L310.78 108.73 L310.5 106.21 L310.23 103.68 L309.96 101.16 L309.69 98.64 L309.41 96.12 L309.12 93.6 L308.81 91.07 L308.49 88.55 L308.17 86.03 L307.85 83.51 L307.52 80.99 L307.2 78.46 L306.87 75.94 L306.55 73.42 L306.22 70.9 L305.89 68.37 L305.56 65.85 L305.23 63.33 L304.89 60.81 L304.56 58.29 L304.22 55.76 L303.89 53.24 L303.55 50.72 L303.21 48.2 L302.87 45.68 L302.52 43.15 L302.18 40.63 L301.83 38.11 L301.48 35.59 L301.13 33.07 L300.78 30.54 L300.43 28.02 L300.07 25.5 L299.72 22.98 L299.36 20.45 L299 17.93 L298.64 15.41 L298.27 12.89 L297.91 10.37 L297.54 7.84 L297.17 5.32 L296.8 2.8Z" fill="#aa5500" stroke="none"/>
<path d="M316 244.3L354 244.14M316 246.92L354 246.75M316 249.54L354 249.37M316 252.16L354 251.99M316 254.78L354 254.61M316 257.4L354 257.23M316 260.02L354 259.85M316 262.64L354 262.47M316 265.26L354 265.09M316 267.88L354 267.7M316 270.5L354 270.32M316 273.12L354 272.94M316 275.74L354 275.56M316 278.36L354 278.18M313.31 278.58Q313.61 280.98 316.31 280.98L354 280.8M311.74 281.2Q312.04 283.6 314.74 283.6L354 283.42M310.17 283.82Q310.47 286.22 313.17 286.22L354 286.03M308.6 286.44Q308.9 288.84 311.6 288.84L354 288.65M307.02 289.06Q307.32 291.46 310.02 291.46L354 291.27M305.45 291.68Q305.75 294.08 308.45 294.08L354 293.89M305.4 294.3Q305.7 296.7 308.4 296.7L354 296.51" stroke-width="1.9"/>
<defs><linearGradient id="bf" gradientUnits="userSpaceOnUse" x1="354" y1="0" x2="422" y2="0"><stop offset="0" stop-color="#aa5500" stop-opacity="0.95"/><stop offset="0.6" stop-color="#aa5500" stop-opacity="0.8"/><stop offset="1" stop-color="#aa5500" stop-opacity="0"/></linearGradient></defs>
<path d="M354 244.44L422 244.84M354 247.05L422 247.46M354 249.67L422 250.07M354 252.29L422 252.69M354 254.91L422 255.31M354 257.53L422 257.92M354 260.15L422 260.54M354 262.77L422 263.16M354 265.39L422 265.77M354 268L422 268.39M354 270.62L422 271M354 273.24L422 273.62M354 275.86L422 276.24M354 278.48L422 278.85M354 281.1L422 281.47M354 283.72L422 284.09M354 286.33L422 286.7M354 288.95L422 289.32M354 291.57L422 291.93M354 294.19L422 294.55M354 296.81L422 297.17" stroke-width="1.15" stroke="url(#bf)"/>
</g>
<g id="purple" stroke="#800080" fill="none" stroke-width="1.6">
<path d="M174.6 2.8 L175.25 5.8 L175.89 8.8 L176.52 11.81 L177.14 14.81 L177.76 17.81 L178.36 20.81 L178.96 23.81 L179.56 26.82 L180.14 29.82 L180.72 32.82 L181.28 35.82 L181.84 38.82 L182.4 41.83 L182.95 44.83 L183.48 47.83 L184.02 50.83 L184.54 53.84 L185.06 56.84 L185.57 59.84 L186.07 62.84 L186.53 65.84 L186.97 68.85 L187.4 71.85 L187.82 74.85 L188.25 77.85 L188.69 80.85 L189.16 83.86 L189.65 86.86 L190.18 89.86 L190.76 92.86 L191.39 95.86 L192.07 98.87 L192.78 101.87 L193.52 104.87 L194.29 107.87 L195.07 110.87 L195.86 113.88 L196.65 116.88 L197.43 119.88 L198.2 122.88 L198.96 125.88 L199.68 128.89 L200.39 131.89 L201.09 134.89 L201.78 137.89 L202.48 140.89 L203.19 143.9 L203.92 146.9 L204.67 149.9 L205.46 152.9 L206.27 155.91 L207.1 158.91 L207.95 161.91 L208.81 164.91 L209.67 167.91 L210.54 170.92 L211.39 173.92 L212.24 176.92 L213.06 179.92 L213.87 182.92 L214.7 185.93 L215.55 188.93 L216.43 191.93 L217.38 194.93 L218.39 197.93 L219.48 200.94 L220.62 203.94 L221.79 206.94 L222.98 209.94 L224.18 212.94 L225.4 215.95 L226.65 218.95 L227.92 221.95 L229.23 224.95 L230.58 227.95 L231.96 230.96 L233.37 233.96 L234.83 236.96 L236.33 239.96 L237.88 242.96 L239.5 245.97 L241.24 248.97 L243.03 251.97 L244.78 254.97 L246.46 257.98 L248.09 260.98 L249.72 263.98 L251.34 266.98 L252.99 269.98 L254.66 272.99 L256.34 275.99 L258.03 278.99 L259.73 281.99 L261.43 284.99 L263.14 288 L264.87 291 L266.6 294 L267 293.8 L267 237.2 L265.27 234.19 L263.48 231.19 L261.62 228.18 L259.65 225.18 L257.59 222.17 L255.48 219.17 L253.36 216.16 L251.28 213.16 L249.26 210.15 L247.22 207.15 L245.18 204.14 L243.2 201.14 L241.32 198.13 L239.57 195.13 L237.95 192.12 L236.4 189.12 L234.92 186.11 L233.51 183.11 L232.16 180.1 L230.87 177.1 L229.63 174.09 L228.46 171.09 L227.34 168.08 L226.26 165.08 L225.21 162.07 L224.19 159.07 L223.19 156.06 L222.2 153.06 L221.22 150.05 L220.23 147.05 L219.26 144.04 L218.3 141.04 L217.36 138.03 L216.44 135.03 L215.55 132.02 L214.67 129.02 L213.83 126.01 L213 123.01 L212.2 120 L211.42 116.99 L210.65 113.99 L209.89 110.98 L209.14 107.98 L208.4 104.97 L207.66 101.97 L206.91 98.96 L206.17 95.96 L205.42 92.95 L204.66 89.95 L203.89 86.94 L203.11 83.94 L202.33 80.93 L201.56 77.93 L200.78 74.92 L200.01 71.92 L199.25 68.91 L198.51 65.91 L197.78 62.9 L197.08 59.9 L196.38 56.89 L195.7 53.89 L195.01 50.88 L194.34 47.88 L193.67 44.87 L193 41.87 L192.35 38.86 L191.7 35.86 L191.05 32.85 L190.42 29.85 L189.79 26.84 L189.17 23.84 L188.56 20.83 L187.96 17.83 L187.37 14.82 L186.79 11.82 L186.21 8.81 L185.65 5.81 L185.1 2.8Z" fill="#800080" stroke="none"/>
<path d="M266.4 240.8L269.9 241.3M266.4 243.43L269.9 243.93M266.4 246.06L269.9 246.56M266.4 248.69L269.9 249.19M266.4 251.32L269.9 251.82M266.4 253.95L269.9 254.45M266.4 256.58L269.9 257.08M266.4 259.21L269.9 259.71M266.4 261.84L269.9 262.34M266.4 264.47L269.9 264.97M266.4 267.1L269.9 267.6M266.4 269.73L269.9 270.23M266.4 272.36L269.9 272.86M266.4 274.99L269.9 275.49M266.4 277.62L269.9 278.12M266.4 280.25L269.9 280.75M266.4 282.88L269.9 283.38M266.4 285.51L269.9 286.01M266.4 288.14L269.9 288.64M266.4 290.77L269.9 291.27M266.4 293.4L269.9 293.9"/>
</g>
<path d="M87.6 127.6H515.4" stroke="#000" stroke-width="1.7" stroke-dasharray="4.9 2.27" stroke-dashoffset="1.3" fill="none"/>
<path d="M95.54 302.45v-2.8M95.54 2.8v2.8M102.6 302.45v-2.8M102.6 2.8v2.8M108.83 302.45v-2.8M108.83 2.8v2.8M114.4 302.45v-4.4M114.4 2.8v4.4M151.06 302.45v-2.8M151.06 2.8v2.8M172.5 302.45v-2.8M172.5 2.8v2.8M187.71 302.45v-2.8M187.71 2.8v2.8M199.51 302.45v-2.8M199.51 2.8v2.8M209.16 302.45v-2.8M209.16 2.8v2.8M217.31 302.45v-2.8M217.31 2.8v2.8M224.37 302.45v-2.8M224.37 2.8v2.8M230.6 302.45v-2.8M230.6 2.8v2.8M236.17 302.45v-4.4M236.17 2.8v4.4M272.83 302.45v-2.8M272.83 2.8v2.8M294.27 302.45v-2.8M294.27 2.8v2.8M309.48 302.45v-2.8M309.48 2.8v2.8M321.28 302.45v-2.8M321.28 2.8v2.8M330.93 302.45v-2.8M330.93 2.8v2.8M339.08 302.45v-2.8M339.08 2.8v2.8M346.14 302.45v-2.8M346.14 2.8v2.8M352.37 302.45v-2.8M352.37 2.8v2.8M357.94 302.45v-4.4M357.94 2.8v4.4M394.6 302.45v-2.8M394.6 2.8v2.8M416.04 302.45v-2.8M416.04 2.8v2.8M431.25 302.45v-2.8M431.25 2.8v2.8M443.05 302.45v-2.8M443.05 2.8v2.8M452.7 302.45v-2.8M452.7 2.8v2.8M460.85 302.45v-2.8M460.85 2.8v2.8M467.91 302.45v-2.8M467.91 2.8v2.8M474.14 302.45v-2.8M474.14 2.8v2.8M479.71 302.45v-4.4M479.71 2.8v4.4M87.6 277.18h4.4M515.4 277.18h-4.4M87.6 252.25h2.8M515.4 252.25h-2.8M87.6 227.32h4.4M515.4 227.32h-4.4M87.6 202.39h2.8M515.4 202.39h-2.8M87.6 177.46h4.4M515.4 177.46h-4.4M87.6 152.53h2.8M515.4 152.53h-2.8M87.6 127.6h4.4M515.4 127.6h-4.4M87.6 102.67h2.8M515.4 102.67h-2.8M87.6 77.74h4.4M515.4 77.74h-4.4M87.6 52.81h2.8M515.4 52.81h-2.8M87.6 27.88h4.4M515.4 27.88h-4.4" stroke="#555" stroke-width="0.85" fill="none"/>
<rect x="87.6" y="2.8" width="427.8" height="299.65" fill="none" stroke="#585858" stroke-width="1.05"/>
<g font-family="'Liberation Serif', serif" fill="#2e2e2e">
<text x="84.8" y="28.28" font-size="15.8" text-anchor="end">40</text>
<text x="68.9" y="35.58" font-size="23.2" text-anchor="end">10</text>
<text x="84.8" y="78.14" font-size="15.8" text-anchor="end">20</text>
<text x="68.9" y="85.44" font-size="23.2" text-anchor="end">10</text>
<text x="84.6" y="135.3" font-size="23.2" text-anchor="end">1</text>
<text x="84.8" y="177.86" font-size="15.8" text-anchor="end">20</text>
<text transform="translate(59.3 177.86) scale(1.4 1)" font-size="15.8">−</text>
<text x="58.9" y="185.16" font-size="23.2" text-anchor="end">10</text>
<text x="84.8" y="227.72" font-size="15.8" text-anchor="end">40</text>
<text transform="translate(59.3 227.72) scale(1.4 1)" font-size="15.8">−</text>
<text x="58.9" y="235.02" font-size="23.2" text-anchor="end">10</text>
<text x="84.8" y="277.58" font-size="15.8" text-anchor="end">60</text>
<text transform="translate(59.3 277.58) scale(1.4 1)" font-size="15.8">−</text>
<text x="58.9" y="284.88" font-size="23.2" text-anchor="end">10</text>
<text x="115" y="323.3" font-size="23.2" text-anchor="middle">10</text>
<text x="236.57" y="323.3" font-size="23.2" text-anchor="middle">100</text>
<text x="357.64" y="323.3" font-size="23.2" text-anchor="middle">1000</text>
<text x="485.4" y="323.3" font-size="23.2" text-anchor="end">10</text>
<text x="486.2" y="315.8" font-size="15.8">4</text>
<text x="256.4" y="354.6" font-size="22.5" font-style="italic">M</text>
<text x="285.6" y="355.2" font-size="25.5">[</text>
<text x="293.4" y="354.6" font-size="23" font-style="italic">f</text>
<text x="303.6" y="347" font-size="15.3">2</text>
<path d="M313.3 359.8L323.5 337.8" stroke="#2e2e2e" stroke-width="1.05" fill="none"/>
<text transform="translate(323.6 354.6) scale(1.1 1)" font-size="22.5" font-style="italic">m</text>
<text x="341.2" y="355.2" font-size="25.5">]</text>
<g transform="translate(20.2 181) rotate(-90)">
<text transform="translate(-0.5 0) scale(1.12 1)" font-size="24" font-style="italic">τ</text>
<text x="11" y="4.3" font-size="15.5">0</text>
<text transform="translate(31.6 0) scale(1.12 1)" font-size="24" font-style="italic">τ</text>
<text x="42.2" y="3" font-size="14.5" font-style="italic">U</text>
</g>
<path d="M24.8 158.3L5.6 150.5" stroke="#2e2e2e" stroke-width="1.05" fill="none"/>
</g>
<g font-family="'Liberation Serif', serif">
<text x="199.2" y="32.6" font-size="19.5" fill="#9933ff" font-style="italic">δ</text>
<text transform="translate(213.2 32.6) scale(1.25 1)" font-size="19.5" fill="#9933ff">=</text>
<text x="231.6" y="32.6" font-size="19.2" fill="#9933ff">10</text>
<text transform="translate(250.7 25.6) scale(1.3 1)" font-size="12.2" fill="#9933ff">−</text>
<text x="260" y="25.6" font-size="12.2" fill="#9933ff">1</text>
<text x="307.8" y="32.6" font-size="19.2" fill="#7f2a1a">10</text>
<text transform="translate(326.5 25.6) scale(1.3 1)" font-size="12.2" fill="#7f2a1a">−</text>
<text x="336.3" y="25.6" font-size="12.2" fill="#7f2a1a">2</text>
<text x="383.6" y="32" font-size="16.6" fill="#58a31e">10</text>
<text transform="translate(400.2 25.7) scale(1.35 1)" font-size="10.8" fill="#58a31e">−</text>
<text x="408.8" y="25.7" font-size="10.8" fill="#58a31e">3</text>
<text x="434.1" y="32.6" font-size="19.2" fill="#ff1a1a">10</text>
<text transform="translate(453.6 25.6) scale(1.4 1)" font-size="12.2" fill="#ff1a1a">−</text>
<text x="463.3" y="25.6" font-size="12.2" fill="#ff1a1a">4</text>
</g>
</svg>
</body></html>
